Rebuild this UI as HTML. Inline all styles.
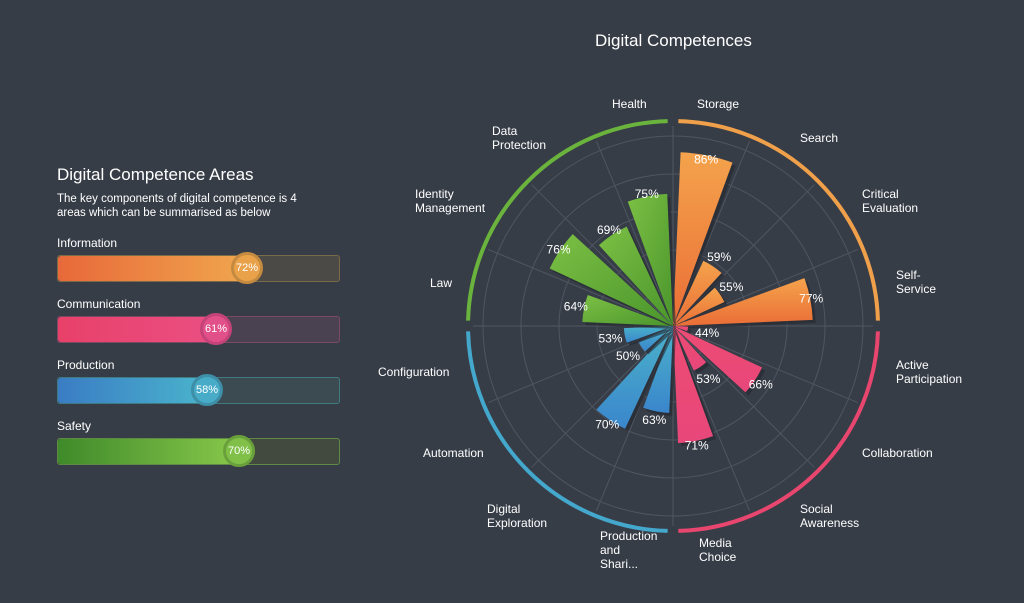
<!DOCTYPE html><html><head><meta charset="utf-8"><style>
body{margin:0;width:1024px;height:603px;background:#373d47;font-family:"Liberation Sans",sans-serif;color:#fff;position:relative;overflow:hidden}
.t{position:absolute;font-size:12px;line-height:14px;color:#fff}
.bar{position:absolute;left:57px;width:283px;height:27px;border-radius:3px;box-sizing:border-box}
.fill{position:absolute;left:0;top:0;bottom:0;border-radius:3px}
.knob{position:absolute;top:-4px;width:32px;height:32px;border-radius:50%;box-sizing:border-box;font-size:11px;line-height:26px;text-align:center;color:#fff}
.lab{position:absolute;left:57px;font-size:12px}
</style></head><body>
<div style="position:absolute;left:57px;top:165px;font-size:17px">Digital Competence Areas</div>
<div style="position:absolute;left:57px;top:192px;font-size:11.5px;line-height:14px">The key components of digital competence is 4<br>areas which can be summarised as below</div>

<div class="lab" style="top:236px">Information</div>
<div class="bar" style="top:255px;background:#4b4a47;border:1px solid #7a6a48"><div class="fill" style="width:190px;background:linear-gradient(90deg,#e8693a,#f0a64d)"></div><div class="knob" style="left:173px;background:#eaa24a;border:3px solid #c48a3f">72%</div></div>
<div class="lab" style="top:297px">Communication</div>
<div class="bar" style="top:316px;background:#4a4250;border:1px solid #7a4a62"><div class="fill" style="width:159px;background:linear-gradient(90deg,#e8416a,#ea4f82)"></div><div class="knob" style="left:142px;background:#e25089;border:3px solid #c44378">61%</div></div>
<div class="lab" style="top:358px">Production</div>
<div class="bar" style="top:377px;background:#3c4a52;border:1px solid #3f7a82"><div class="fill" style="width:150px;background:linear-gradient(90deg,#3a7cc4,#4ab4cc)"></div><div class="knob" style="left:133px;background:#48abc8;border:3px solid #3d8ea6">58%</div></div>
<div class="lab" style="top:419px">Safety</div>
<div class="bar" style="top:438px;background:#42493f;border:1px solid #5f8a45"><div class="fill" style="width:182px;background:linear-gradient(90deg,#3f8a2a,#88c84a)"></div><div class="knob" style="left:165px;background:#80c048;border:3px solid #6aa03c">70%</div></div>

<div style="position:absolute;left:595px;top:31px;font-size:17px">Digital Competences</div>
<svg id="s" width="1024" height="603" style="position:absolute;left:0;top:0"></svg>
<div class="t" style="left:612px;top:97px">Health</div>
<div class="t" style="left:697px;top:97px">Storage</div>
<div class="t" style="left:492px;top:124px">Data<br>Protection</div>
<div class="t" style="left:800px;top:131px">Search</div>
<div class="t" style="left:415px;top:187px">Identity<br>Management</div>
<div class="t" style="left:862px;top:187px">Critical<br>Evaluation</div>
<div class="t" style="left:430px;top:276px">Law</div>
<div class="t" style="left:896px;top:268px">Self-<br>Service</div>
<div class="t" style="left:378px;top:365px">Configuration</div>
<div class="t" style="left:896px;top:358px">Active<br>Participation</div>
<div class="t" style="left:423px;top:446px">Automation</div>
<div class="t" style="left:862px;top:446px">Collaboration</div>
<div class="t" style="left:487px;top:502px">Digital<br>Exploration</div>
<div class="t" style="left:800px;top:502px">Social<br>Awareness</div>
<div class="t" style="left:600px;top:529px">Production<br>and<br>Shari...</div>
<div class="t" style="left:699px;top:536px">Media<br>Choice</div>
<script>
var s=document.getElementById('s'),NS='http://www.w3.org/2000/svg',cx=673,cy=326;
function el(n,a,t){var e=document.createElementNS(NS,n);for(var k in a)e.setAttribute(k,a[k]);if(t)e.textContent=t;s.appendChild(e);return e}
function P(r,a){a=(a-90)*Math.PI/180;return[cx+r*Math.cos(a),cy+r*Math.sin(a)]}
var d=document.createElementNS(NS,'defs');d.innerHTML='<linearGradient id="g0" x1="0" y1="0" x2="0" y2="1"><stop offset="0" stop-color="#f4a34c"/><stop offset="1" stop-color="#ea6d36"/></linearGradient><linearGradient id="g1" x1="0" y1="0" x2="0" y2="1"><stop offset="0" stop-color="#ec4c72"/><stop offset="1" stop-color="#e8477a"/></linearGradient><linearGradient id="g2" x1="0" y1="1" x2="0" y2="0"><stop offset="0" stop-color="#3a86cc"/><stop offset="1" stop-color="#4bb2c9"/></linearGradient><linearGradient id="g3" x1="0" y1="0" x2="1" y2="1"><stop offset="0" stop-color="#7cc044"/><stop offset="1" stop-color="#4a952c"/></linearGradient>';s.appendChild(d);
[38,76,114,152,190].forEach(function(r){el('circle',{cx:cx,cy:cy,r:r,fill:'none',stroke:'#4f5661','stroke-width':1})});
for(var i=0;i<16;i++){var p=P(200,i*22.5);el('line',{x1:cx,y1:cy,x2:p[0],y2:p[1],stroke:'#4f5661','stroke-width':1})}
var cols=['#f0a04a','#e8466e','#44a8cc','#6ab43e'];
for(var g=0;g<4;g++){var a0=g*90+1.5,a1=g*90+88.5,p0=P(205,a0),p1=P(205,a1);el('path',{d:'M'+p0+'A205,205 0 0 1 '+p1,fill:'none',stroke:cols[g],'stroke-width':4})}
var v=[86,59,55,77,44,66,53,71,63,70,50,53,64,76,69,75];
v.forEach(function(x,i){var r=(x-40)*3.78,a0=i*22.5+2.5,a1=i*22.5+20,p0=P(r,a0),p1=P(r,a1),g=Math.floor(i/4);
var pp='M'+cx+','+cy+'L'+p0+'A'+r+','+r+' 0 0 1 '+p1+'Z';
el('path',{d:pp,fill:'#23272e',opacity:.6,transform:'translate(3,3)'});
el('path',{d:pp,fill:'url(#g'+g+')'});});
v.forEach(function(x,i){var r=(x-40)*3.78;
var q=P(0.85*r+22,i*22.5+11.25);el('text',{x:q[0],y:q[1]+4,'text-anchor':'middle','font-size':12,fill:'#fff','font-family':'Liberation Sans,sans-serif'},x+'%')});
</script>
</body></html>
